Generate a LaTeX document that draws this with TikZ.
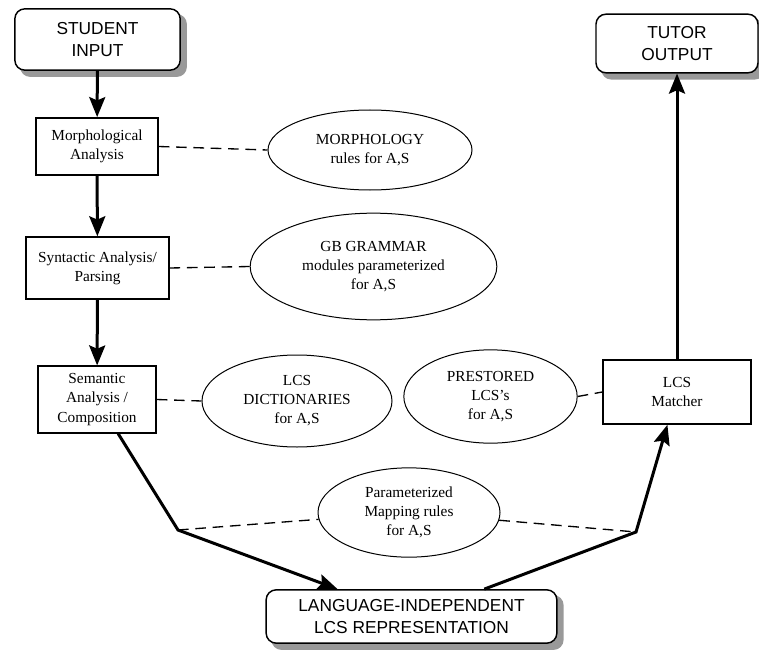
\documentclass[tikz,border=0pt]{standalone}
\usepackage{fontspec}
\setmainfont{Liberation Serif}
\setsansfont{Liberation Sans}
\usetikzlibrary{positioning, arrows.meta, shapes.geometric, backgrounds}
\tikzset{
  io/.style     = {rectangle, rounded corners=7.5pt, draw=black, line width=1.1pt,
                   fill=white, align=center, inner sep=2pt,
                   font=\fontsize{13}{16.5}\sffamily},
  shadowbox/.style = {fill=black!40, draw=none, rounded corners=7.5pt},
  proc/.style   = {rectangle, draw=black, line width=1.1pt, fill=white,
                   align=center, inner sep=2pt,
                   font=\fontsize{11.5}{14.5}\selectfont},
  know/.style   = {ellipse, draw=black, line width=0.75pt, align=center,
                   inner sep=0pt, font=\fontsize{11.5}{14.3}\selectfont},
  flow/.style   = {line width=2.25pt, -{Stealth[length=15pt, width=12pt, inset=2.5pt]}},
  link/.style   = {line width=1pt, dash pattern=on 8pt off 5pt},
}
\begin{document}
\begin{tikzpicture}[x=0.75pt, y=-0.75pt]
\useasboundingbox (0,0) rectangle (759,649);

% Left column: student input down to composition
\node (in) [io, minimum width=124pt, minimum height=46pt] at (97.5,39.5)
  {STUDENT\\INPUT};
\node (morph) [proc, minimum width=91.5pt, minimum height=43pt] at (97,146.5)
  {Morphological\\Analysis};
\node (syn) [proc, minimum width=107pt, minimum height=46.5pt] at (97.5,268)
  {Syntactic Analysis/\\Parsing};
\node (sem) [proc, minimum width=88.5pt, minimum height=50pt] at (97,399.5)
  {Semantic\\Analysis /\\Composition};

% Knowledge sources (ellipses)
\node (morphrules) [know, minimum width=153pt, minimum height=60pt] at (370,150)
  {MORPHOLOGY\\rules for A,S};
\node (gbrules) [know, minimum width=185pt, minimum height=80pt] at (373.5,266.5)
  {GB GRAMMAR\\modules parameterized\\for A,S};
\node (lcsdict) [know, minimum width=142.5pt, minimum height=69pt] at (297,401)
  {LCS\\DICTIONARIES\\for A,S};
\node (prestored) [know, minimum width=130pt, minimum height=70pt] at (490.5,396.5)
  {PRESTORED\\LCS's\\for A,S};
\node (maprules) [know, minimum width=136.5pt, minimum height=67pt] at (409,512.5)
  {Parameterized\\Mapping rules\\for A,S};

% Right column: matcher up to tutor output
\node (matcher) [proc, minimum width=111pt, minimum height=48pt] at (677,392)
  {LCS\\Matcher};
\node (out) [io, minimum width=121.5pt, minimum height=44pt] at (677,43.5)
  {TUTOR\\OUTPUT};

% Interlingua at the bottom
\node (langrep) [io, minimum width=218pt, minimum height=40pt] at (411.5,616.5)
  {LANGUAGE-INDEPENDENT\\LCS REPRESENTATION};

% Gray drop shadows under the rounded boxes
\begin{scope}[on background layer]
  \foreach \n in {in, out, langrep}
    \fill [shadowbox] ([shift={(4.5pt,-4.5pt)}]\n.south west) rectangle
                      ([shift={(4.5pt,-4.5pt)}]\n.north east);
\end{scope}

\coordinate (lbend) at (178,530);
\coordinate (rbend) at (636,532);

\draw [flow] (in) -- (morph);
\draw [flow] (morph) -- (syn);
\draw [flow] (syn) -- (sem);
\draw [flow] (sem) -- (lbend) -- (langrep);
\draw [flow] (langrep) -- (rbend) -- (matcher);
\draw [flow] (matcher) -- (out);

\draw [link] (morph.east) -- (morphrules.west);
\draw [link] (syn.east) -- (gbrules.west);
\draw [link] (sem.east) -- (lcsdict.west);
\draw [link] (prestored.east) -- (matcher.west);
\draw [link] (lbend) -- (maprules);
\draw [link] (maprules) -- (rbend);

\end{tikzpicture}
\end{document}
